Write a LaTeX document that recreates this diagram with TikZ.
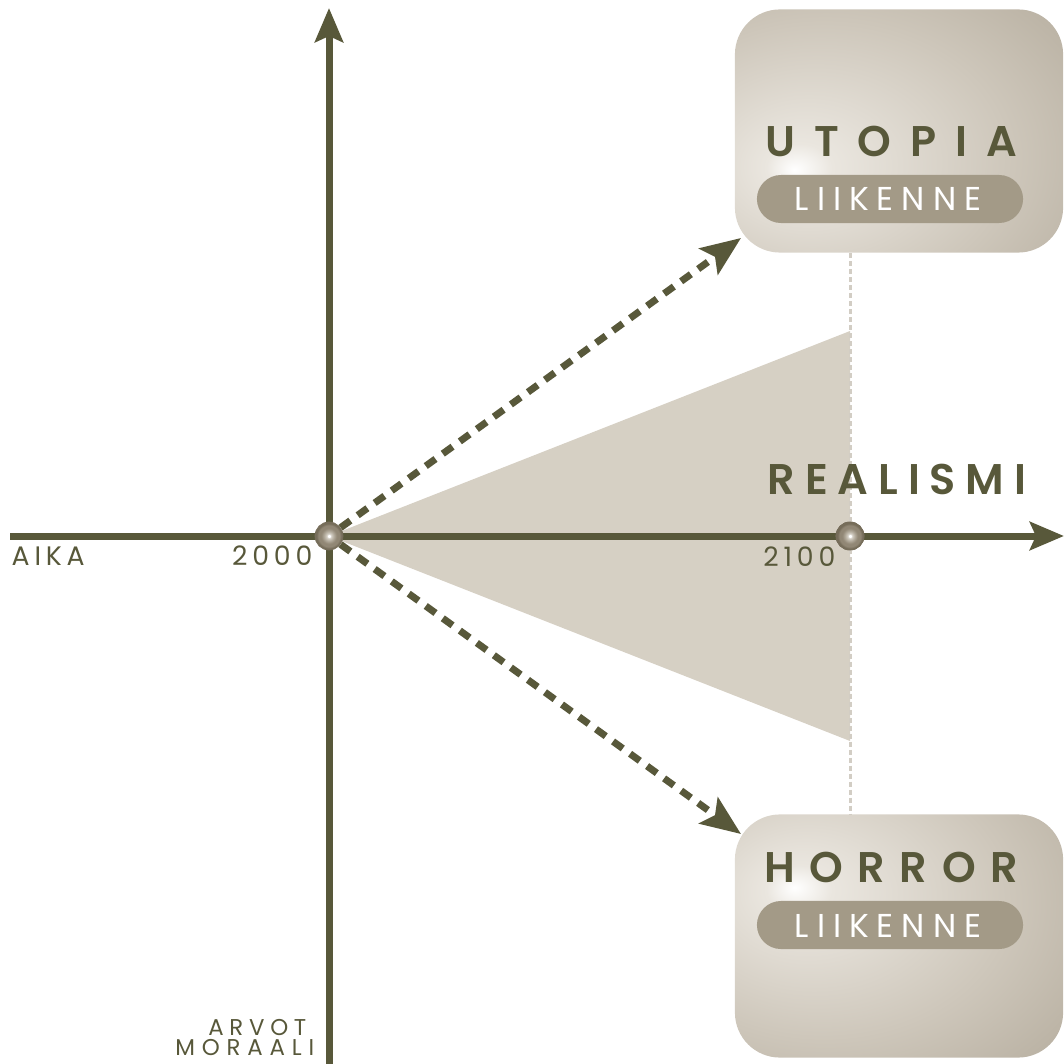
\documentclass[tikz,border=0pt]{standalone}
\usepackage{fontspec}
\setmainfont{Poppins}
\IfFontExistsTF{Poppins SemiBold}
  {\newfontfamily\headfont{Poppins SemiBold}\newcommand\headweight{}}
  {\newfontfamily\headfont{Poppins}\newcommand\headweight{\bfseries}}
\usetikzlibrary{arrows.meta, positioning, calc}
\definecolor{axisolive}{RGB}{88,88,58}
\definecolor{conebeige}{RGB}{214,208,196}
\definecolor{pillbrown}{RGB}{163,154,135}
\definecolor{guidegray}{RGB}{210,205,196}
\definecolor{knobA}{RGB}{118,109,90}
\definecolor{knobB}{RGB}{145,135,117}
\definecolor{knobC}{RGB}{176,168,153}
\definecolor{knobD}{RGB}{212,207,197}
\definecolor{boxA}{RGB}{234,230,223}
\definecolor{boxB}{RGB}{206,199,187}
\definecolor{boxC}{RGB}{172,163,147}

\pgfdeclareradialshading{utopiashade}{\pgfpoint{-16bp}{-8bp}}{color(0bp)=(white); color(5bp)=(boxA); color(28bp)=(boxB); color(55bp)=(boxC); color(100bp)=(boxC)}
\pgfdeclareradialshading{horrorshade}{\pgfpoint{-16bp}{10bp}}{color(0bp)=(white); color(5bp)=(boxA); color(28bp)=(boxB); color(55bp)=(boxC); color(100bp)=(boxC)}
\pgfdeclareradialshading{knobshade}{\pgfpointorigin}{color(0bp)=(white); color(2bp)=(white); color(4bp)=(knobD); color(9bp)=(knobC); color(14bp)=(knobB); color(20bp)=(knobB); color(21bp)=(knobA); color(25bp)=(knobA); color(50bp)=(knobA)}

\begin{document}
\begin{tikzpicture}[x=0.01cm, y=-0.01cm,
    axis/.style={draw=axisolive, line width=0.07cm, -{Stealth[length=0.34cm, width=0.28cm, inset=0.06cm]}},
    dasharrow/.style={draw=axisolive, line width=0.07cm, dash pattern=on 0.12cm off 0.09cm, -{Stealth[length=0.4cm, width=0.32cm, inset=0.08cm]}},
    guide/.style={draw=guidegray, line width=0.03cm, dash pattern=on 0.05cm off 0.03cm},
    knob/.style={circle, minimum size=0.28cm, inner sep=0pt, shading=knobshade, draw=knobA, line width=0.2pt},
    scenario/.style={rectangle, rounded corners=0.45cm, minimum width=3.28cm, minimum height=2.43cm, inner sep=0pt},
    pill/.style={rectangle, rounded corners=0.24cm, fill=pillbrown, minimum width=2.66cm, minimum height=0.48cm, inner sep=0pt},
    headtxt/.style={text=axisolive, inner sep=0pt, font={\headfont\headweight\fontsize{12.2}{14}\selectfont\addfontfeature{LetterSpace=#1}}},
    headtxt/.default=44,
    pilltxt/.style={text=white, inner sep=0pt, font={\fontsize{9.4}{11}\selectfont\addfontfeature{LetterSpace=24}}},
    axlabel/.style={text=axisolive, inner sep=0pt, font={\fontsize{7.6}{9}\selectfont\addfontfeature{LetterSpace=18}}},
    vallabel/.style={text=axisolive, inner sep=0pt, font={\fontsize{6.5}{7}\selectfont\addfontfeature{LetterSpace=#1}}},
    vallabel/.default=28
]
    \useasboundingbox (0,0) rectangle (1063,1064);

    % cone of realistic futures
    \fill[conebeige] (329,536) -- (850,331) -- (850,741) -- cycle;

    % axes
    \coordinate (xstart) at (10,536);
    \coordinate (xend) at (1064,536);
    \coordinate (ybottom) at (329,1064);
    \coordinate (ytop) at (329,8);
    \draw[axis] (xstart) -- (xend);
    \draw[axis] (ybottom) -- (ytop);

    % scenario boxes
    \node[scenario, shading=utopiashade] (utopia) at (899,131) {};
    \node[scenario, shading=horrorshade] (horror) at (899,936) {};

    \node[knob] (o2000) at (329,536) {};
    \node[knob] (o2100) at (850,536) {};

    \draw[guide] (utopia.south -| o2100) -- (horror.north -| o2100);
    \node[knob] at (o2100) {};

    % extreme scenarios
    \coordinate (utip) at (741,238);
    \coordinate (htip) at (741,834);
    \draw[dasharrow] (o2000) -- (utip);
    \draw[dasharrow] (o2000) -- (htip);

    \node[headtxt, anchor=base] (utopiatxt) at (891,157) {UTOPIA};
    \node[pill] (utopiapill) at (890,199) {};
    \node[pilltxt, anchor=base] at (888,211) {LIIKENNE};

    \node[headtxt=34, anchor=base] (horrortxt) at (891,882) {HORROR};
    \node[pill] (horrorpill) at (890,925) {};
    \node[pilltxt, anchor=base] at (888,937) {LIIKENNE};

    \node[headtxt=23, anchor=base] (realismi) at (897,494) {REALISMI};

    % axis labels
    \node[axlabel, anchor=base west] (aika) at (11,565) {AIKA};
    \node[axlabel, anchor=base east] (y2000) at (313,565) {2000};
    \node[axlabel, anchor=base east] (y2100) at (836,566) {2100};
    \node[vallabel=25, anchor=base east] (arvot) at (307,1035) {ARVOT};
    \node[vallabel=30, anchor=base east] (moraali) at (315,1055) {MORAALI};
\end{tikzpicture}
\end{document}
